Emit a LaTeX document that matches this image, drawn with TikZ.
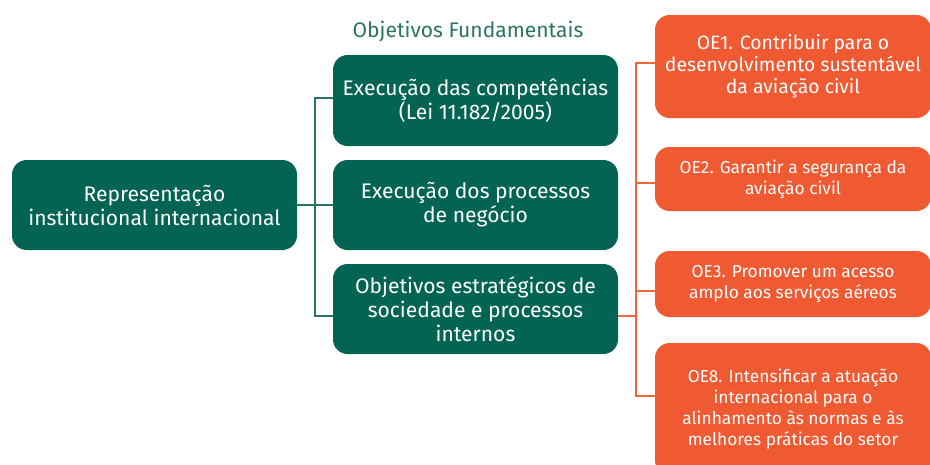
\documentclass[tikz,border=0pt]{standalone}
\usepackage{fontspec}
\setmainfont{Fira Sans}
\usepackage{tikz}
\usepackage{xcolor}
\usetikzlibrary{positioning,calc}
\definecolor{darkgreen}{HTML}{036454}
\definecolor{linegreen}{HTML}{2B7363}
\definecolor{orangefill}{HTML}{F05A32}
\definecolor{lineorange}{HTML}{F2663E}
\tikzset{
  greenbox/.style={fill=darkgreen,text=white,rounded corners=11pt,
                   minimum width=213.75pt,minimum height=67.5pt,
                   align=center,inner sep=2pt,
                   font=\fontsize{15.8}{18}\selectfont},
  orangebox/.style={fill=orangefill,text=white,rounded corners=11pt,
                    minimum width=207pt,align=center,inner sep=2pt,
                    font=\fontsize{13}{15.6}\selectfont},
  gline/.style={draw=linegreen,line width=1.3pt},
  oline/.style={draw=lineorange,line width=1.3pt}
}
\begin{document}
\begin{tikzpicture}[x=0.75pt,y=-0.75pt]
  \useasboundingbox (0,0) rectangle (930,464);
  % left and middle column
  \node[greenbox] (rep) at (154.5,205) {Representação\\institucional internacional};
  \node[greenbox,minimum height=68.25pt] (f1) at (475.5,100.5) {Execução das competências\\(Lei 11.182/2005)};
  \node[greenbox] (f2) at (475.5,205) {Execução dos processos\\de negócio};
  \node[greenbox] (f3) at (475.5,309) {Objetivos estratégicos de\\sociedade e processos\\internos};
  \node[text=linegreen,font=\fontsize{15.8}{18}\selectfont] (title) at (468,32) {Objetivos Fundamentais};
  % right column
  \node[orangebox,minimum height=77.25pt,font=\fontsize{14.5}{16.6}\selectfont] (oe1) at (793,66.5) {OE1. Contribuir para o\\desenvolvimento sustentável\\da aviação civil};
  \node[orangebox,minimum height=48pt] (oe2) at (793,179) {OE2. Garantir a segurança da\\aviação civil};
  \node[orangebox,minimum height=49.5pt] (oe3) at (793,284) {OE3. Promover um acesso\\amplo aos serviços aéreos};
  \node[orangebox,minimum height=99pt] (oe8) at (793,409) {OE8. Intensificar a atuação\\internacional para o\\alinhamento às normas e às\\melhores práticas do setor};
  % connectors
  \coordinate (busg) at ($(rep.east)!0.5!(f2.west)$);
  \draw[gline] (rep.east) -- (f2.west);
  \draw[gline] (busg) |- ([yshift=2pt]f1.west);
  \draw[gline] (busg) |- ([yshift=-5pt]f3.west);
  \coordinate (buso) at ($([yshift=-5pt]f3.east)+(18,0)$);
  \draw[oline] ([yshift=-5pt]f3.east) -- (buso);
  \draw[oline] (buso) |- ([yshift=2.6pt]oe1.west);
  \draw[oline] (buso) |- ([yshift=-3pt]oe2.west);
  \draw[oline] (buso) |- ([yshift=-5pt]oe3.west);
  \draw[oline] (buso) |- ([yshift=9.75pt]oe8.west);
\end{tikzpicture}
\end{document}
